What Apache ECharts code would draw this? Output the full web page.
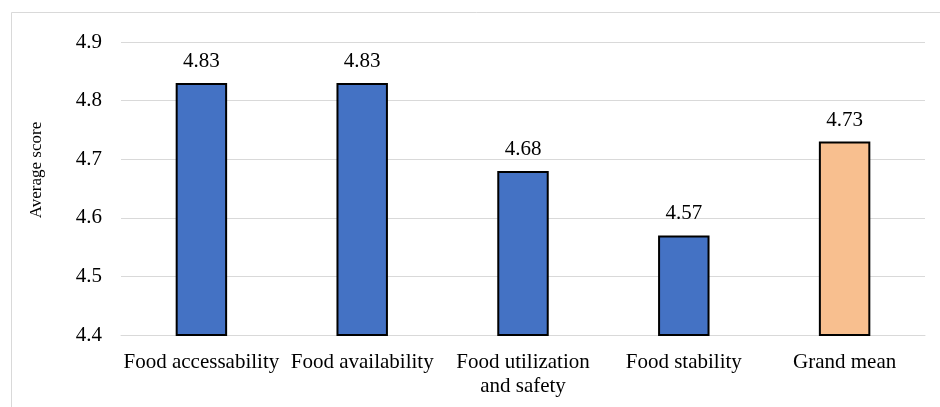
<!DOCTYPE html>
<html>
<head>
<meta charset="utf-8">
<script src="https://cdn.jsdelivr.net/npm/echarts@6/dist/echarts.min.js"></script>
<style>
  html, body { margin: 0; padding: 0; background: #fff; }
  #chart { width: 940px; height: 407px; }
</style>
</head>
<body>
<div id="chart"></div>
<script>
// Food security dimensions and their average scores
const categories = ['Food accessability', 'Food availability', 'Food utilization\nand safety', 'Food stability', 'Grand mean'];
const scores = [4.83, 4.83, 4.68, 4.57, 4.73];
const barColors = ['#4472C4', '#4472C4', '#4472C4', '#4472C4', '#F8BF8F'];
const yTicks = { min: 4.4, max: 4.9, step: 0.1 };
const yTitle = 'Average score';

const font = '"Liberation Serif", "Times New Roman", serif';
const chart = echarts.init(document.getElementById('chart'), null, { renderer: 'canvas' });

chart.setOption({
  backgroundColor: '#ffffff',
  animation: false,
  graphic: [{
    type: 'rect',
    shape: { x: 11.5, y: 12.5, width: 1000, height: 500 },
    style: { fill: 'none', stroke: '#D9D9D9', lineWidth: 1 },
    silent: true
  }, {
    type: 'text',
    x: 37, y: 170,
    rotation: Math.PI / 2,
    style: {
      text: yTitle, fill: '#000', font: '17px ' + font,
      align: 'center', verticalAlign: 'middle'
    },
    silent: true
  }],
  grid: { left: 121, right: 15, top: 42, bottom: 72 },
  xAxis: {
    type: 'category',
    data: categories,
    axisLine: { show: true, lineStyle: { color: '#D9D9D9', width: 1 } },
    axisTick: { show: false },
    axisLabel: {
      color: '#000', fontFamily: font, fontSize: 21, margin: 15,
      lineHeight: 24, interval: 0
    }
  },
  yAxis: {
    type: 'value',
    min: yTicks.min, max: yTicks.max, interval: yTicks.step,
    axisLine: { show: false },
    axisTick: { show: false },
    splitLine: { lineStyle: { color: '#D9D9D9', width: 1 } },
    axisLabel: {
      color: '#000', fontFamily: font, fontSize: 21, margin: 19,
      formatter: v => v.toFixed(1)
    }
  },
  series: [{
    type: 'bar',
    barWidth: '32%',
    data: scores.map((v, i) => ({
      value: v,
      itemStyle: { color: barColors[i], borderColor: '#000', borderWidth: 2 }
    })),
    label: {
      show: true, position: 'top', distance: 11,
      color: '#000', fontFamily: font, fontSize: 21,
      formatter: p => p.value.toFixed(2)
    }
  }]
});
</script>
</body>
</html>
